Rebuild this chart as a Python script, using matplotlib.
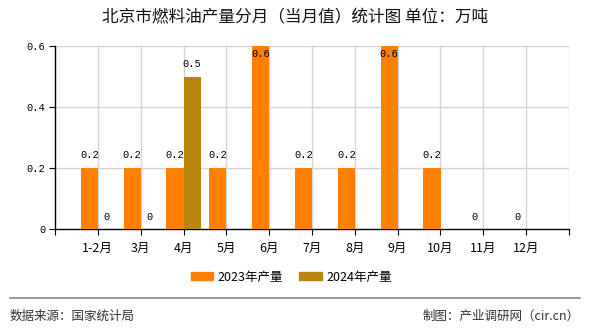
import numpy as np
import matplotlib
matplotlib.use("Agg")
import matplotlib.pyplot as plt
from matplotlib.lines import Line2D

plt.rcParams['font.family'] = ['Noto Sans CJK SC', 'DejaVu Sans']

months = ["1-2月", "3月", "4月", "5月", "6月", "7月", "8月", "9月", "10月", "11月", "12月"]
prod_2023 = [0.2, 0.2, 0.2, 0.2, 0.6, 0.2, 0.2, 0.6, 0.2, 0, 0]
prod_2024 = [0, 0, 0.5, None, None, None, None, None, None, None, None]
y_ticks = [0, 0.2, 0.4, 0.6]
y_labels = ["0", "0.2", "0.4", "0.6"]

C23 = "#ff8000"
C24 = "#b8860b"
MONO = ["Liberation Mono", "DejaVu Sans Mono"]

fig = plt.figure(figsize=(5.9, 3.3), dpi=100)
ax = fig.add_axes([55 / 590, 1 - 229 / 330, 514 / 590, 183 / 330])

x = np.arange(1, len(months) + 1)
w = 0.4
ymax = 0.6


def bars(xs, vals, color):
    xs_ok = [xx for xx, v in zip(xs, vals) if v is not None]
    v_ok = [v for v in vals if v is not None]
    ax.bar(xs_ok, v_ok, width=w, color=color, zorder=3)
    for xx, v in zip(xs_ok, v_ok):
        lab = f"{v:g}"
        # labels that would leave the plot are tucked inside the bar top
        dy = -6 if v >= ymax else 9
        ax.annotate(lab, (xx, v), xytext=(0, dy), textcoords="offset points",
                    ha="center", va="center", fontsize=7.5, family=MONO, zorder=4)


bars(x - w / 2, prod_2023, C23)
bars(x + w / 2, prod_2024, C24)

ax.set_xlim(0, len(months) + 1)
ax.set_ylim(0, ymax)
ax.set_yticks(y_ticks)
ax.set_yticklabels(y_labels, family=MONO, fontsize=7.5)
ax.set_xticks(np.arange(0, len(months) + 2))
ax.set_xticklabels([""] + months + [""], fontsize=9)
ax.tick_params(axis="both", length=4, width=0.8, color="black", pad=3)
ax.tick_params(axis="x", pad=5)

for gx in x:
    ax.axvline(gx, color="#d4d4d4", lw=1, zorder=1)
ax.axvline(len(months) + 1, color="#d4d4d4", lw=1, zorder=1)
for gy in y_ticks[1:]:
    ax.axhline(gy, color="#d4d4d4", lw=1, zorder=1)

for s in ["top", "right"]:
    ax.spines[s].set_visible(False)
ax.spines["left"].set_linewidth(1)
ax.spines["bottom"].set_linewidth(1)

fig.text(0.5, 1 - 18 / 330, "北京市燃料油产量分月（当月值）统计图 单位：万吨",
         ha="center", va="center", fontsize=12, color="#111111")

handles = [plt.Rectangle((0, 0), 1, 1, color=C23), plt.Rectangle((0, 0), 1, 1, color=C24)]
fig.legend(handles, ["2023年产量", "2024年产量"], loc="center",
           bbox_to_anchor=(291 / 590, 1 - 277 / 330), ncol=2, frameon=False,
           fontsize=9, handlelength=1.8, handleheight=0.65, handletextpad=0.35,
           columnspacing=1.3)

fig.add_artist(Line2D([10 / 590, 580 / 590], [1 - 298 / 330, 1 - 298 / 330],
                      color="#888888", lw=1.2, transform=fig.transFigure))
fig.text(10 / 590, 1 - 316 / 330, "数据来源：国家统计局", ha="left", va="center",
         fontsize=9, color="#333333")
fig.text(580 / 590, 1 - 316 / 330, "制图：产业调研网（cir.cn）", ha="right", va="center",
         fontsize=9, color="#333333")

fig.savefig("out.png", dpi=100)
